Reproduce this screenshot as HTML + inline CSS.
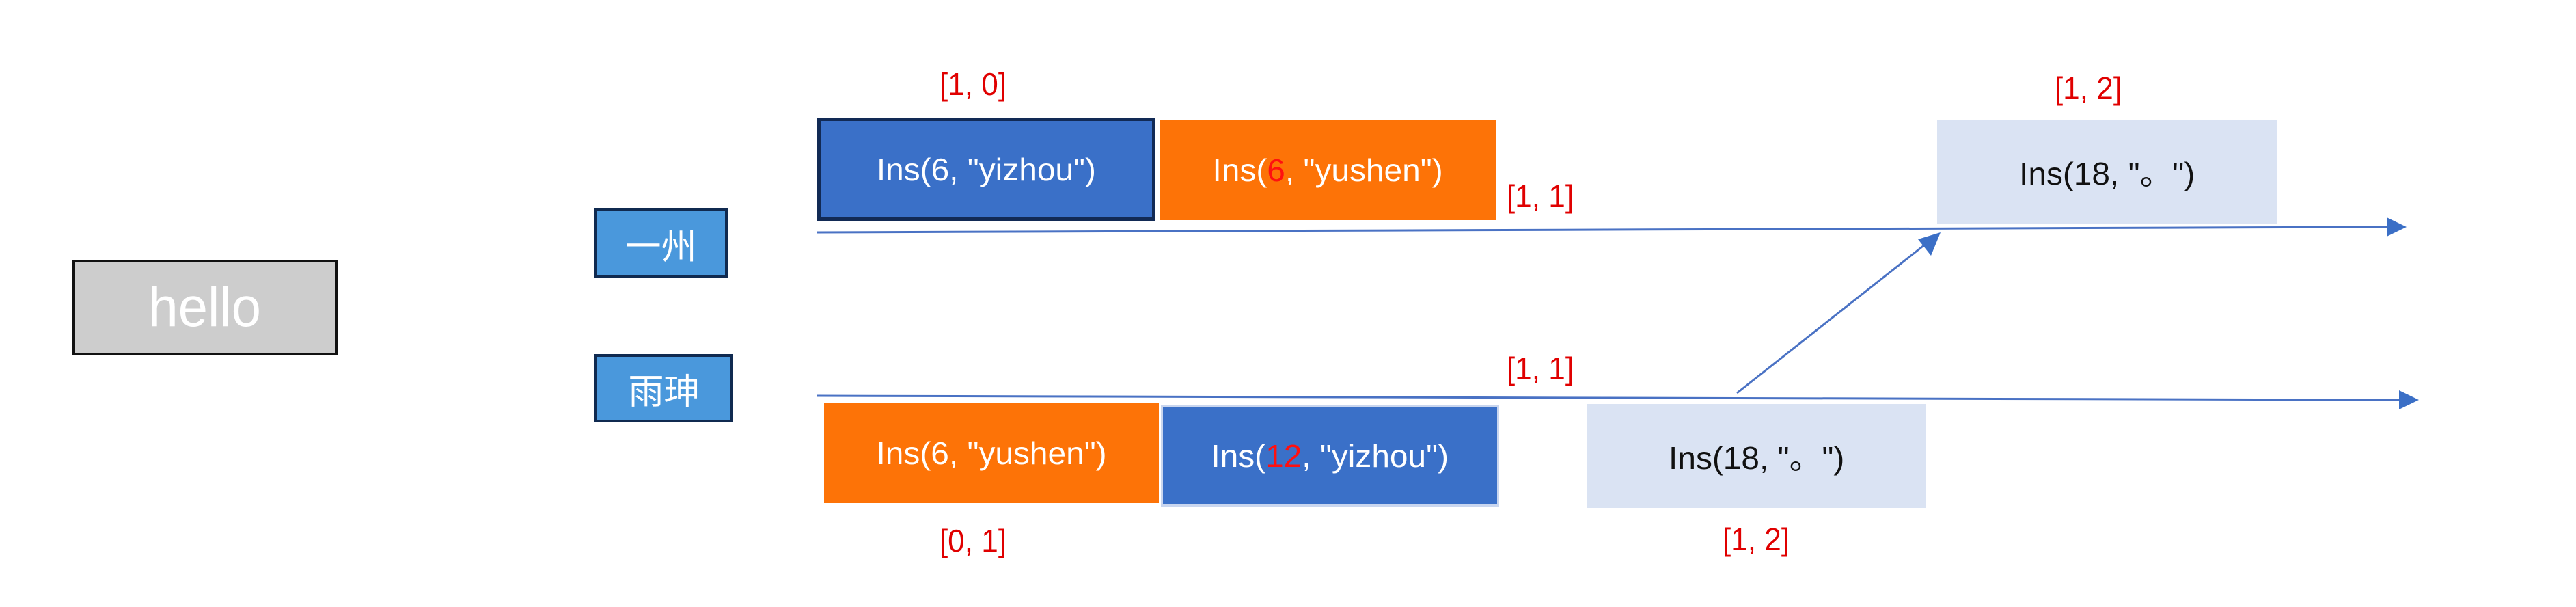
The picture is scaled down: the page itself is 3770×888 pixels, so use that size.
<!DOCTYPE html>
<html><head><meta charset="utf-8"><style>
html,body{margin:0;padding:0;background:#fff}
body{width:3770px;height:888px;position:relative;overflow:hidden;font-family:"Liberation Sans","Noto Sans CJK SC",sans-serif}
.b{position:absolute;box-sizing:border-box;display:flex;align-items:center;justify-content:center;color:#fff}
.t{display:inline-block;font-size:46px;transform:scaleX(1.04);white-space:pre}
.l{position:absolute;color:#e00000;font-size:46px;transform:translateX(-50%) scaleX(0.96);white-space:pre}
.r{color:#ff1010}
</style></head><body>
<svg width="3770" height="888" style="position:absolute;left:0;top:0">
<line x1="1196" y1="340" x2="3495" y2="332" stroke="#4a72c4" stroke-width="3"/>
<polygon points="3522,332 3493,318 3493,346" fill="#3b6fc6"/>
<line x1="1196" y1="579" x2="3512" y2="585" stroke="#4a72c4" stroke-width="3"/>
<polygon points="3540,585 3511,571 3511,599" fill="#3b6fc6"/>
<line x1="2542" y1="575" x2="2822" y2="354" stroke="#4a72c4" stroke-width="3"/>
<polygon points="2840,340 2807,350 2826,374" fill="#3b6fc6"/>
</svg>
<div class="b" style="left:106px;top:380px;width:388px;height:140px;background:#cdcdcd;border:4px solid #111"><span class="t" style="font-size:82px;transform:scaleX(0.95)">hello</span></div>
<div class="b" style="left:870px;top:305px;width:195px;height:102px;background:#4a98dc;border:4px solid #102a50"><span style="font-size:52px">一州</span></div>
<div class="b" style="left:870px;top:518px;width:203px;height:100px;background:#4a98dc;border:4px solid #102a50"><span style="font-size:52px">雨珅</span></div>
<div class="b" style="left:1196px;top:172px;width:495px;height:151px;background:#3a70c8;border:5px solid #122a55"><span class="t">Ins(6, "yizhou")</span></div>
<div class="b" style="left:1697px;top:175px;width:492px;height:147px;background:#fd7307"><span class="t">Ins(<span class="r">6</span>, "yushen")</span></div>
<div class="b" style="left:1206px;top:590px;width:490px;height:146px;background:#fd7307"><span class="t">Ins(6, "yushen")</span></div>
<div class="b" style="left:1699px;top:593px;width:495px;height:148px;background:#3a70c8;border:3px solid #c9d6ef"><span class="t">Ins(<span class="r">12</span>, "yizhou")</span></div>
<div class="b" style="left:2835px;top:175px;width:497px;height:152px;background:#dae3f3;color:#111"><span class="t">Ins(18, "。")</span></div>
<div class="b" style="left:2322px;top:591px;width:497px;height:152px;background:#dae3f3;color:#111"><span class="t">Ins(18, "。")</span></div>
<div class="l" style="left:1424px;top:96px">[1, 0]</div>
<div class="l" style="left:1424px;top:764px">[0, 1]</div>
<div class="l" style="left:2254px;top:260px">[1, 1]</div>
<div class="l" style="left:2254px;top:512px">[1, 1]</div>
<div class="l" style="left:3056px;top:102px">[1, 2]</div>
<div class="l" style="left:2570px;top:762px">[1, 2]</div>
</body></html>
